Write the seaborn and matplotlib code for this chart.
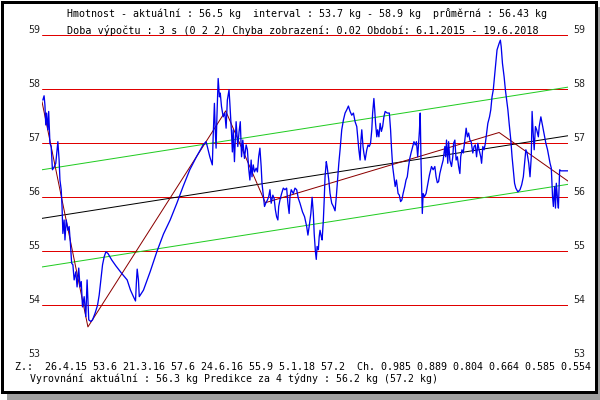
import numpy as np
import pandas as pd
import matplotlib
matplotlib.use("Agg")
import matplotlib.pyplot as plt
import matplotlib.transforms as mtransforms
from matplotlib.patches import Rectangle
import seaborn as sns

# obdobi mereni
zacatek = pd.Timestamp("2015-01-06")
konec = pd.Timestamp("2018-06-19")

# namerena hmotnost: den od zacatku obdobi, kg
den = [2, 5, 7, 9, 11, 14, 16, 19, 22, 25, 29, 33, 37, 38, 41, 43, 46, 48, 50, 53,
       55, 58, 62, 65, 68, 71, 74, 77, 81, 84, 88, 91, 94, 97, 101, 105, 108, 112, 117, 121,
       127, 133, 137, 141, 145, 149, 153, 158, 167, 177, 191, 204, 212, 219, 224, 226, 228, 231, 233, 243,
       259, 275, 291, 307, 323, 338, 354, 370, 386, 393, 396, 402, 408, 410, 413, 415, 417, 419, 421, 422,
       425, 427, 430, 434, 438, 441, 444, 448, 450, 454, 456, 458, 461, 463, 465, 469, 472, 475, 478, 481,
       485, 489, 492, 495, 498, 501, 503, 506, 509, 513, 516, 519, 522, 525, 527, 530, 533, 536, 540, 543,
       546, 549, 553, 556, 559, 562, 565, 567, 570, 574, 578, 582, 586, 589, 592, 594, 597, 602, 606, 610,
       614, 618, 624, 629, 634, 637, 640, 644, 647, 650, 652, 655, 657, 659, 662, 664, 666, 669, 671, 674,
       676, 678, 681, 683, 687, 690, 694, 698, 702, 705, 708, 711, 714, 718, 722, 726, 730, 734, 738, 742,
       746, 750, 754, 757, 759, 762, 764, 766, 769, 771, 774, 778, 781, 784, 787, 790, 792, 795, 797, 799,
       802, 804, 807, 810, 813, 816, 819, 822, 827, 832, 835, 837, 840, 843, 846, 849, 853, 856, 859, 862,
       865, 869, 872, 875, 878, 881, 884, 888, 891, 894, 897, 900, 904, 906, 908, 911, 913, 916, 920, 923,
       928, 933, 937, 941, 944, 947, 950, 953, 957, 961, 965, 967, 969, 972, 974, 977, 981, 984, 986, 989,
       992, 995, 998, 1001, 1003, 1006, 1009, 1012, 1016, 1019, 1022, 1025, 1028, 1032, 1035, 1038, 1041, 1044, 1047, 1051,
       1053, 1056, 1059, 1062, 1065, 1068, 1072, 1075, 1078, 1081, 1084, 1087, 1090, 1095, 1098, 1100, 1103, 1107, 1110, 1113,
       1116, 1119, 1123, 1126, 1129, 1132, 1135, 1140, 1145, 1149, 1153, 1156, 1159, 1162, 1166, 1169, 1172, 1174, 1177, 1179,
       1182, 1185, 1189, 1191, 1195, 1198, 1201, 1204, 1207, 1211, 1214, 1217, 1220, 1223, 1225, 1228, 1230, 1232, 1235, 1237,
       1240, 1243, 1260]
hmotnost = [57.80, 57.88, 57.71, 57.34, 57.56, 57.25, 57.59, 57.00, 56.94, 56.51, 56.56, 56.63, 56.94, 57.03, 56.69, 56.32, 56.14, 55.83, 55.33, 55.58,
            55.21, 55.58, 55.39, 55.46, 55.15, 54.78, 54.75, 54.47, 54.62, 54.34, 54.69, 54.34, 54.44, 53.97, 54.16, 53.79, 54.47, 53.73, 53.70, 53.73,
            53.85, 54.00, 54.19, 54.47, 54.75, 54.90, 54.99, 54.96, 54.84, 54.73, 54.59, 54.47, 54.28, 54.16, 54.08, 54.41, 54.67, 54.47, 54.16, 54.28,
            54.62, 54.99, 55.32, 55.58, 55.89, 56.20, 56.51, 56.75, 56.97, 57.03, 56.94, 56.75, 56.60, 57.12, 57.74, 57.25, 56.91, 57.49, 57.93, 58.20,
            57.86, 57.93, 57.68, 57.49, 57.56, 57.28, 57.80, 57.99, 57.74, 57.19, 56.84, 57.25, 56.66, 57.06, 57.40, 56.94, 57.21, 57.40, 56.75, 57.06,
            56.72, 56.97, 56.88, 56.54, 56.32, 56.69, 56.38, 56.60, 56.47, 56.54, 56.47, 56.75, 56.91, 56.57, 56.26, 56.04, 55.83, 55.89, 55.95, 56.01,
            56.14, 55.89, 56.04, 55.98, 55.77, 55.64, 55.58, 55.83, 55.95, 56.07, 56.17, 56.14, 56.17, 55.89, 55.70, 56.01, 56.14, 56.07, 56.17, 56.14,
            55.98, 55.89, 55.73, 55.64, 55.46, 55.30, 55.46, 55.70, 56.00, 55.70, 55.33, 54.99, 54.85, 55.09, 55.03, 55.27, 55.39, 55.27, 55.21, 55.58,
            55.95, 56.38, 56.66, 56.57, 56.32, 56.07, 55.89, 55.83, 55.75, 56.01, 56.32, 56.63, 56.88, 57.25, 57.43, 57.56, 57.62, 57.69, 57.59, 57.52,
            57.56, 57.40, 57.31, 57.06, 56.88, 56.69, 57.06, 57.25, 56.94, 56.82, 56.69, 56.88, 56.97, 56.94, 57.00, 57.25, 57.56, 57.83, 57.62, 57.37,
            57.12, 57.25, 57.12, 57.37, 57.22, 57.31, 57.49, 57.59, 57.56, 57.56, 57.25, 56.94, 56.57, 56.38, 56.20, 56.32, 56.07, 56.04, 55.92, 55.95,
            56.07, 56.20, 56.32, 56.38, 56.57, 56.72, 56.82, 56.94, 57.03, 56.97, 57.03, 56.75, 57.22, 57.56, 56.63, 55.70, 56.07, 56.01, 56.07, 56.20,
            56.41, 56.57, 56.51, 56.57, 56.38, 56.27, 56.29, 56.44, 56.57, 56.69, 56.94, 56.75, 57.06, 56.63, 57.03, 56.69, 56.57, 56.75, 57.00, 57.06,
            56.69, 56.75, 56.57, 56.44, 56.75, 56.88, 56.82, 57.00, 57.28, 57.12, 57.19, 57.06, 57.03, 56.82, 56.94, 56.97, 56.75, 57.00, 56.88, 56.75,
            56.63, 56.94, 56.88, 57.00, 57.19, 57.37, 57.49, 57.62, 57.86, 57.99, 58.23, 58.48, 58.73, 58.85, 58.91, 58.79, 58.48, 58.23, 57.99, 57.80,
            57.62, 57.37, 57.06, 56.75, 56.51, 56.26, 56.17, 56.10, 56.14, 56.23, 56.38, 56.63, 56.88, 56.82, 56.63, 56.38, 56.75, 57.59, 57.12, 56.88,
            57.31, 57.25, 57.12, 57.31, 57.49, 57.37, 57.25, 57.12, 57.00, 56.88, 56.75, 56.63, 56.54, 56.01, 55.83, 56.20, 55.80, 56.26, 55.95, 55.80,
            56.51, 56.49, 56.49]

# vyrovnani po usecich (zlomy Z.:)
uzly_den = [0, 110, 440, 535, 1095, 1260]
uzly_kg = [57.77, 53.6, 57.6, 55.9, 57.2, 56.3]

# linearni trend a pasmo kolem nej
trend_kg = [55.61, 57.14]
pasmo_kg = 0.9

osa_kg = [53, 54, 55, 56, 57, 58, 59]

hlavicka1 = "Hmotnost - aktuální : 56.5 kg  interval : 53.7 kg - 58.9 kg  průměrná : 56.43 kg"
hlavicka2 = "Doba výpočtu : 3 s (0 2 2) Chyba zobrazení: 0.02 Období: 6.1.2015 - 19.6.2018"
pata1 = "Z.:  26.4.15 53.6 21.3.16 57.6 24.6.16 55.9 5.1.18 57.2  Ch. 0.985 0.889 0.804 0.664 0.585 0.554"
pata2 = "Vyrovnání aktuální : 56.3 kg Predikce za 4 týdny : 56.2 kg (57.2 kg)"

data = pd.DataFrame({"datum": zacatek + pd.to_timedelta(den, unit="D"), "kg": hmotnost})
uzly = pd.DataFrame({"datum": zacatek + pd.to_timedelta(uzly_den, unit="D"), "kg": uzly_kg})
trend = pd.DataFrame({"datum": [zacatek, konec], "kg": trend_kg})

sns.set_style("white")
plt.rcParams["font.family"] = ["DejaVu Sans Mono", "DejaVu Sans"]

W, H = 600, 400
px = 72 / 100  # jeden pixel v bodech
fig = plt.figure(figsize=(W / 100, H / 100), dpi=100)


def fx(x):
    return x / W


def fy(y):
    return 1 - y / H


# ramecek se stinem
fig.patches.append(Rectangle((fx(7), fy(400)), (600 - 7) / W, (400 - 7) / H,
                             transform=fig.transFigure, facecolor="#a0a0a0", edgecolor="none", zorder=0))
fig.patches.append(Rectangle((fx(1.5), fy(391.5)), (595.5 - 1.5) / W, (391.5 - 1.5) / H,
                             transform=fig.transFigure, facecolor="white", edgecolor="black",
                             linewidth=3 * px, zorder=1))

ax = fig.add_axes([fx(42), fy(359.3), (568 - 42) / W, (359.3 - 35.3) / H])
ax.set_facecolor("none")
ax.set_zorder(2)

for v in osa_kg:
    ax.axhline(v, color="#e00000", linewidth=px, zorder=1)

sns.lineplot(data=trend, x="datum", y="kg", ax=ax, color="black", linewidth=px, zorder=3)
for znam in (1, -1):
    pas = trend.assign(kg=trend["kg"] + znam * pasmo_kg)
    sns.lineplot(data=pas, x="datum", y="kg", ax=ax, color="#22cc22", linewidth=px, zorder=3)
sns.lineplot(data=uzly, x="datum", y="kg", ax=ax, color="#8b0000", linewidth=px, zorder=4)
sns.lineplot(data=data, x="datum", y="kg", ax=ax, color="#0000ee", linewidth=1.3 * px, zorder=5, sort=False)

ax.set_xlim(zacatek, konec)
ax.set_ylim(53, 59)
ax.set_xticks([])
ax.set_yticks([])
ax.set_xlabel("")
ax.set_ylabel("")
for s in ax.spines.values():
    s.set_visible(False)


def napis(x, y, s, sirka):
    t = fig.text(fx(x), fy(y), s, ha="left", va="center", fontsize=7.5, color="black", zorder=6)
    fig.canvas.draw()
    w = t.get_window_extent().width
    t.set_fontsize(7.5 * sirka / w)
    return t.get_fontsize()


velikost = napis(67, 13.5, hlavicka1, 483)
napis(67, 30, hlavicka2, 466)
napis(15, 367.5, pata1, 577)
napis(30, 378.5, pata2, 403)

levy = mtransforms.offset_copy(ax.get_yaxis_transform(), fig=fig, x=-2, y=5, units="dots")
pravy = mtransforms.offset_copy(ax.get_yaxis_transform(), fig=fig, x=5, y=5, units="dots")
for v in osa_kg:
    ax.text(0, v, str(v), transform=levy, ha="right", va="center", fontsize=velikost, clip_on=False)
    ax.text(1, v, str(v), transform=pravy, ha="left", va="center", fontsize=velikost, clip_on=False)

fig.savefig("out.png", dpi=100)
